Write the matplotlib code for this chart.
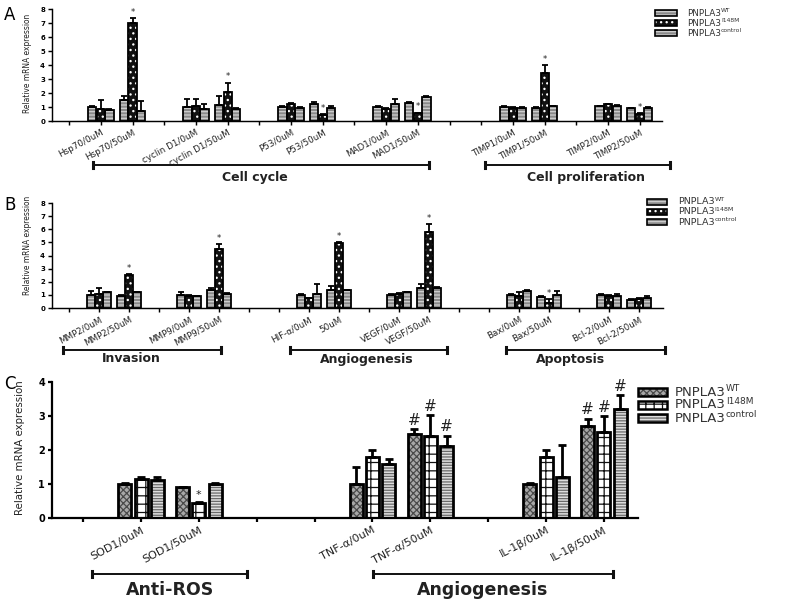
import numpy as np
import matplotlib.pyplot as plt
from matplotlib.patches import Rectangle
from matplotlib.lines import Line2D

plt.rcParams['font.family'] = ['DejaVu Sans']
plt.rcParams['hatch.linewidth'] = 0.9

W, H = 800, 599

# ---------------- panel A data ----------------
cats_a = ["", "Hsp70/0uM", "Hsp70/50uM", "", "cyclin D1/0uM", "cyclin D1/50uM", "",
          "P53/0uM", "P53/50uM", "", "MAD1/0uM", "MAD1/50uM", "", "",
          "TIMP1/0uM", "TIMP1/50uM", "", "TIMP2/0uM", "TIMP2/50uM"]
wt_a = [1.0, 1.5, 1.0, 1.15, 1.0, 1.2, 1.0, 1.3, 1.0, 0.95, 1.05, 0.9]
wt_a_err = [0.05, 0.3, 0.6, 0.65, 0.05, 0.15, 0.05, 0.05, 0.05, 0.05, 0.05, 0.05]
mut_a = [0.85, 7.0, 1.1, 2.1, 1.2, 0.45, 0.85, 0.55, 0.95, 3.4, 1.2, 0.5]
mut_a_err = [0.65, 0.35, 0.5, 0.65, 0.1, 0.05, 0.05, 0.05, 0.05, 0.6, 0.05, 0.05]
ctl_a = [0.8, 0.75, 0.85, 0.85, 0.95, 0.95, 1.2, 1.75, 0.95, 1.05, 1.1, 0.95]
ctl_a_err = [0.05, 0.65, 0.35, 0.05, 0.05, 0.15, 0.35, 0.05, 0.05, 0.05, 0.05, 0.05]
mut_a_marks = ["", "*", "", "*", "", "*", "", "*", "", "*", "", "*"]

# ---------------- panel B data ----------------
cats_b = ["", "MMP2/0uM", "MMP2/50uM", "", "MMP9/0uM", "MMP9/50uM", "", "",
          "HIF-α/0uM", "50uM", "", "VEGF/0uM", "VEGF/50uM", "", "",
          "Bax/0uM", "Bax/50uM", "", "Bcl-2/0uM", "Bcl-2/50uM"]
wt_b = [1.0, 0.95, 1.0, 1.35, 1.0, 1.4, 1.0, 1.55, 1.0, 0.85, 1.0, 0.6]
wt_b_err = [0.3, 0.05, 0.2, 0.15, 0.05, 0.25, 0.05, 0.3, 0.05, 0.05, 0.05, 0.05]
mut_b = [1.1, 2.5, 0.95, 4.5, 0.75, 4.95, 1.1, 5.8, 0.95, 0.4, 0.95, 0.7]
mut_b_err = [0.45, 0.1, 0.05, 0.35, 0.05, 0.05, 0.05, 0.6, 0.3, 0.3, 0.05, 0.05]
ctl_b = [1.2, 1.2, 0.9, 1.05, 1.05, 1.35, 1.2, 1.55, 1.3, 1.0, 0.9, 0.75]
ctl_b_err = [0.05, 0.05, 0.05, 0.1, 0.75, 0.05, 0.05, 0.05, 0.05, 0.3, 0.15, 0.15]
mut_b_marks = ["", "*", "", "*", "", "*", "", "*", "", "*", "", ""]

# ---------------- panel C data ----------------
cats_c = ["", "SOD1/0uM", "SOD1/50uM", "", "", "TNF-α/0uM", "TNF-α/50uM", "",
          "IL-1β/0uM", "IL-1β/50uM"]
wt_c = [1.0, 0.9, 1.0, 2.48, 1.0, 2.7]
wt_c_err = [0.02, 0.02, 0.5, 0.13, 0.02, 0.22]
mut_c = [1.15, 0.45, 1.8, 2.42, 1.79, 2.54]
mut_c_err = [0.07, 0.03, 0.2, 0.6, 0.2, 0.46]
ctl_c = [1.12, 1.0, 1.6, 2.12, 1.22, 3.2]
ctl_c_err = [0.1, 0.02, 0.15, 0.3, 0.92, 0.42]
wt_c_marks = ["", "", "", "#", "", "#"]
mut_c_marks = ["", "*", "", "#", "", "#"]
ctl_c_marks = ["", "", "", "#", "", "#"]

legend_base = "PNPLA3"
legend_sup = ["WT", "I148M", "control"]

# face, hatch, hatch colour
style_ab = [("#8a8a8a", "-----", "#cfcfcf"),
            ("#111111", "...", "#ffffff"),
            ("#8a8a8a", "-----", "#cfcfcf")]
style_c = [("#a8a8a8", "xxxxx", "#4a4a4a"),
           ("#ffffff", "++", "#111111"),
           ("#dedede", "------", "#6a6a6a")]

fig = plt.figure(figsize=(8, 5.99), dpi=100)


def px_axes(x0, ytop, x1, ybot):
    return fig.add_axes([x0 / W, 1 - ybot / H, (x1 - x0) / W, (ybot - ytop) / H])


def fx(x):
    return x / W


def fy(y):
    return 1 - y / H


def draw_panel(ax, cats, vals, errs, marks, styles, width, step, lw, xlim, ymax,
               tick_size, label_size, mark_sizes, cap):
    pos = np.arange(len(cats))
    idx = [i for i, c in enumerate(cats) if c]
    x = pos[idx]
    for k in range(3):
        xs = x + (k - 1) * step
        face, hatch, hcol = styles[k]
        ax.bar(xs, vals[k], width, color=face, edgecolor=hcol, hatch=hatch,
               linewidth=0, zorder=2)
        ax.bar(xs, vals[k], width, fill=False, edgecolor="black", linewidth=lw, zorder=3)
        ax.errorbar(xs, vals[k], yerr=[np.zeros(len(vals[k])), errs[k]], fmt="none",
                    ecolor="black", elinewidth=lw, capsize=cap, capthick=lw, zorder=4)
        for j, m in enumerate(marks[k]):
            if m:
                sz = mark_sizes[m]
                ax.text(xs[j], vals[k][j] + errs[k][j] + ymax * 0.01, m, ha="center",
                        va="bottom", fontsize=sz, color="#222222")
    ax.set_xlim(*xlim)
    ax.set_ylim(0, ymax)
    ax.set_yticks(range(0, ymax + 1))
    ax.set_xticks(pos)
    ax.set_xticklabels(cats, rotation=28, ha="right", rotation_mode="anchor",
                       fontsize=label_size, color="#222222")
    for s in ["top", "right"]:
        ax.spines[s].set_visible(False)
    for s in ["left", "bottom"]:
        ax.spines[s].set_linewidth(lw * 0.8)
    ax.tick_params(axis="both", length=3, width=lw * 0.8, pad=2)
    ax.tick_params(axis="y", labelsize=tick_size)
    for t in ax.get_yticklabels():
        t.set_fontweight("bold")


def legend(ax, xb0, xb1, xt, ys, hbox, styles, size, lw):
    for (face, hatch, hcol), sup, y in zip(styles, legend_sup, ys):
        fig.add_artist(Rectangle((fx(xb0), fy(y + hbox / 2)), (xb1 - xb0) / W, hbox / H,
                                 transform=fig.transFigure, facecolor=face, edgecolor=hcol,
                                 hatch=hatch, linewidth=0))
        fig.add_artist(Rectangle((fx(xb0), fy(y + hbox / 2)), (xb1 - xb0) / W, hbox / H,
                                 transform=fig.transFigure, fill=False, edgecolor="black",
                                 linewidth=lw))
        base = fig.text(fx(xt), fy(y), legend_base, fontsize=size, va="center", ha="left",
                        color="#333333")
        ax.annotate(sup, xy=(1.0, 0.45), xycoords=base, fontsize=size * 0.68,
                    va="bottom", ha="left", color="#333333", annotation_clip=False)


def bracket(x0, x1, y, label, tx, ty, size):
    fig.add_artist(Line2D([fx(x0), fx(x1)], [fy(y), fy(y)], color="#111111", lw=1.4,
                          transform=fig.transFigure))
    for xe in (x0, x1):
        fig.add_artist(Line2D([fx(xe), fx(xe)], [fy(y - 3), fy(y + 3)], color="#111111",
                              lw=2.2, transform=fig.transFigure))
    fig.text(fx(tx), fy(ty), label, fontsize=size, fontweight="bold", ha="center",
             va="center", color="#222222")


ylab_font = dict(family=["Liberation Sans Narrow", "DejaVu Sans"], fontstretch="condensed",
                 rotation=90, ha="center", va="center", color="#222222")

# panel A
ax_a = px_axes(52, 9, 662, 121)
draw_panel(ax_a, cats_a, [wt_a, mut_a, ctl_a], [wt_a_err, mut_a_err, ctl_a_err],
           [[], mut_a_marks, []], style_ab, 0.26, 0.27, 1.3, (-0.54, 18.7), 8,
           5, 6.3, {"*": 6}, 2.2)
fig.text(fx(28), fy(63), "Relative mRNA expression", fontsize=6, **ylab_font)
fig.text(fx(4), fy(15), "A", fontsize=12, va="center")
legend(ax_a, 655, 677, 687, [13, 23, 33], 6, style_ab, 6.4, 1.2)
bracket(93, 429, 165, "Cell cycle", 255, 178, 9)
bracket(485, 670, 165, "Cell proliferation", 586, 178, 9)

# panel B
ax_b = px_axes(52, 203, 663, 308)
draw_panel(ax_b, cats_b, [wt_b, mut_b, ctl_b], [wt_b_err, mut_b_err, ctl_b_err],
           [[], mut_b_marks, []], style_ab, 0.26, 0.27, 1.3, (-0.57, 19.8), 8,
           5, 6.3, {"*": 6}, 2.2)
fig.text(fx(28), fy(245), "Relative mRNA expression", fontsize=6, **ylab_font)
fig.text(fx(4), fy(205), "B", fontsize=12, va="center")
legend(ax_b, 647, 667, 678, [202, 212, 222], 6, style_ab, 6.8, 1.2)
bracket(63, 221, 350, "Invasion", 131, 359, 9)
bracket(290, 447, 350, "Angiogenesis", 367, 359, 9)
bracket(506, 665, 350, "Apoptosis", 571, 359, 9)

# panel C
ax_c = px_axes(52, 382, 638, 518)
draw_panel(ax_c, cats_c, [wt_c, mut_c, ctl_c], [wt_c_err, mut_c_err, ctl_c_err],
           [wt_c_marks, mut_c_marks, ctl_c_marks], style_c, 0.225, 0.28, 2.0,
           (-0.54, 9.59), 4, 7, 8, {"*": 8, "#": 11}, 3.2)
fig.text(fx(20), fy(448), "Relative mRNA expression", fontsize=8.2, **ylab_font)
fig.text(fx(4), fy(384), "C", fontsize=12, va="center")
legend(ax_c, 638, 667, 675, [392, 405, 418], 8, style_c, 9.5, 1.8)
bracket(92, 247, 574, "Anti-ROS", 170, 590, 12.5)
bracket(373, 613, 574, "Angiogenesis", 483, 590, 12.5)

fig.savefig("out.png", dpi=100)
